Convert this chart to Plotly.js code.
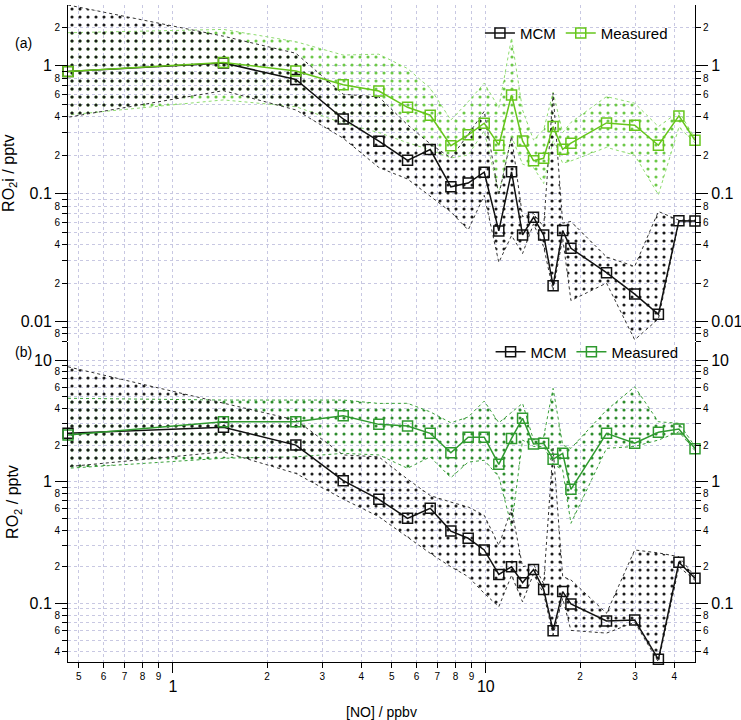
<!DOCTYPE html>
<html>
<head>
<meta charset="utf-8">
<script src="https://cdn.plot.ly/plotly-3.0.1.min.js"></script>
<style>html,body{margin:0;padding:0;background:#fff;}#chart{width:741px;height:720px;}</style>
</head>
<body>
<div id="chart"></div>
<script>
// ---------- data ----------
const noX = [0.462, 1.45, 2.47, 3.5, 4.55, 5.62, 6.64, 7.73, 8.78, 9.88, 11.0, 12.08, 13.1, 14.2, 15.3, 16.4, 17.6, 18.7, 24.3, 29.9, 35.6, 41.4, 46.6];

// panel (a): RO2i
const mcmA    = [0.90, 1.05, 0.78, 0.383, 0.257, 0.182, 0.221, 0.113, 0.121, 0.147, 0.0511, 0.148, 0.0476, 0.0654, 0.0474, 0.0191, 0.0514, 0.0374, 0.0241, 0.0164, 0.0114, 0.0615, 0.0612];
const mcmAHi  = [2.98, 1.7, 1.25, 0.598, 0.57, 0.345, 0.245, 0.19, 0.29, 0.44, 0.097, 0.28, 0.066, 0.07, 0.055, 0.61, 0.0588, 0.0606, 0.032, 0.027, 0.0725, 0.062, 0.062];
const mcmALo  = [0.395, 0.638, 0.451, 0.271, 0.16, 0.13, 0.095, 0.072, 0.052, 0.097, 0.029, 0.047, 0.034, 0.058, 0.0385, 0.0175, 0.045, 0.0146, 0.02, 0.0072, 0.0105, 0.06, 0.06];
const measA   = [0.90, 1.06, 0.91, 0.71, 0.634, 0.473, 0.41, 0.237, 0.288, 0.355, 0.239, 0.59, 0.258, 0.181, 0.189, 0.334, 0.222, 0.248, 0.357, 0.342, 0.239, 0.405, 0.261];
const measAHi = [1.81, 1.92, 1.54, 1.21, 1.23, 0.95, 0.666, 0.376, 0.523, 0.73, 0.47, 1.65, 0.45, 0.263, 0.315, 0.62, 0.3, 0.36, 0.573, 0.509, 0.334, 0.437, 0.271];
const measALo = [0.412, 0.54, 0.478, 0.355, 0.3, 0.25, 0.22, 0.19, 0.2, 0.31, 0.1, 0.28, 0.17, 0.16, 0.12, 0.26, 0.173, 0.18, 0.23, 0.2, 0.098, 0.33, 0.25];

// panel (b): RO2
const mcmB    = [2.5, 2.8, 2.0, 1.02, 0.717, 0.50, 0.605, 0.393, 0.343, 0.275, 0.173, 0.2, 0.148, 0.19, 0.13, 0.0597, 0.125, 0.099, 0.0717, 0.073, 0.0347, 0.218, 0.161];
const mcmBHi  = [8.8, 4.41, 3.21, 1.66, 1.6, 1.05, 0.77, 0.68, 0.62, 0.53, 0.3, 0.6, 0.2, 0.21, 0.145, 1.88, 0.166, 0.156, 0.083, 0.275, 0.26, 0.242, 0.166];
const mcmBLo  = [1.33, 1.76, 1.17, 0.72, 0.516, 0.353, 0.258, 0.2, 0.166, 0.121, 0.094, 0.17, 0.103, 0.175, 0.12, 0.055, 0.11, 0.06, 0.057, 0.07, 0.033, 0.2, 0.155];
const measB   = [2.42, 3.11, 3.11, 3.49, 2.96, 2.87, 2.5, 1.73, 2.32, 2.32, 1.39, 2.27, 3.32, 2.04, 2.07, 1.53, 1.71, 0.866, 2.5, 2.07, 2.55, 2.71, 1.87];
const measBHi = [4.85, 4.69, 4.69, 4.69, 4.4, 4.41, 3.75, 3.05, 3.4, 4.6, 3.05, 3.7, 4.41, 2.2, 2.34, 5.85, 2.0, 1.88, 3.88, 6.03, 3.11, 3.02, 1.95];
const measBLo = [1.29, 1.56, 1.6, 1.71, 1.66, 1.29, 1.6, 1.08, 1.45, 1.5, 1.1, 0.43, 2.2, 1.95, 1.95, 1.4, 1.25, 0.455, 1.88, 1.95, 2.2, 2.57, 1.8];

// ---------- tick labels ----------
const xTickVals  = [0.5,0.6,0.7,0.8,0.9,1,2,3,4,5,6,7,8,9,10,20,30,40];
const xTickText  = ['5','6','7','8','9','','2','3','4','5','6','7','8','9','','2','3','4'];
const xMajorVals = [1,10];
const xMajorText = ['1','10'];

const yATickVals  = [0.007,0.008,0.009,0.01,0.02,0.03,0.04,0.05,0.06,0.07,0.08,0.09,0.1,0.2,0.3,0.4,0.5,0.6,0.7,0.8,0.9,1,2];
const yATickText  = ['','8','','','2','','4','','6','','8','','','2','','4','','6','','8','','','2'];
const yAMajorVals = [0.01,0.1,1];
const yAMajorText = ['0.01','0.1','1'];

const yBTickVals  = [0.04,0.05,0.06,0.07,0.08,0.09,0.1,0.2,0.3,0.4,0.5,0.6,0.7,0.8,0.9,1,2,3,4,5,6,7,8,9,10];
const yBTickText  = ['4','','6','','8','','','2','','4','','6','','8','','','2','','4','','6','','8','',''];
const yBMajorVals = [0.1,1,10];
const yBMajorText = ['0.1','1','10'];

// ---------- styling ----------
const FONT = 'Liberation Sans, Arial, sans-serif';
const GRID = '#c8c8e2';
const BLACK = '#111111';
const GREEN_A = '#66c61c';
const GREEN_B = '#2f9a2f';
const xRange = [Math.log10(0.4619), Math.log10(46.6)];
const yARange = [-2.1547, 0.4742];
const yBRange = [-1.4815, 1.1479];

function band(lo, hi, xa, ya, col, dotCol) {
  return {
    x: noX.concat(noX.slice().reverse()),
    y: hi.concat(lo.slice().reverse()),
    xaxis: xa, yaxis: ya, type: 'scatter', mode: 'lines',
    fill: 'toself', fillcolor: 'rgba(0,0,0,0)',
    fillpattern: {shape: '.', fgcolor: dotCol, bgcolor: 'rgba(0,0,0,0)', size: 8, solidity: 0.12},
    line: {color: col, width: 1, dash: 'dot'},
    showlegend: false, hoverinfo: 'skip'
  };
}
function series(y, xa, ya, col, name, leg) {
  return {
    x: noX, y: y, xaxis: xa, yaxis: ya, type: 'scatter', mode: 'lines+markers',
    name: name, legend: leg, cliponaxis: false,
    line: {color: col, width: 1.5},
    marker: {symbol: 'square-open', size: 10, color: col, line: {width: 1.5, color: col}}
  };
}
function dummy(xa, ya) {
  return {x: [1], y: [1], xaxis: xa, yaxis: ya, type: 'scatter', mode: 'markers',
          opacity: 0, showlegend: false, hoverinfo: 'skip'};
}

const traces = [
  band(measALo, measAHi, 'x2', 'y2', '#8fdc70', '#6cc848'),
  band(mcmALo, mcmAHi, 'x2', 'y2', '#333333', '#1a1a1a'),
  series(mcmA, 'x2', 'y2', BLACK, 'MCM', 'legend'),
  series(measA, 'x2', 'y2', GREEN_A, 'Measured', 'legend'),
  band(measBLo, measBHi, 'x', 'y', '#3aa03a', '#2a8a2a'),
  band(mcmBLo, mcmBHi, 'x', 'y', '#333333', '#1a1a1a'),
  series(mcmB, 'x', 'y', BLACK, 'MCM', 'legend2'),
  series(measB, 'x', 'y', GREEN_B, 'Measured', 'legend2'),
  dummy('x3', 'y'), dummy('x2', 'y3'), dummy('x2', 'y4'), dummy('x2', 'y5'),
  dummy('x', 'y6'), dummy('x', 'y7'), dummy('x', 'y8')
];

const baseAx = {type: 'log', zeroline: false, tickmode: 'array', tickcolor: '#000', tickwidth: 1,
                showgrid: false, showline: false, fixedrange: true};
function ax(extra) { return Object.assign({}, baseAx, extra); }

const layout = {
  width: 741, height: 720,
  margin: {l: 68, r: 46, t: 5, b: 58},
  paper_bgcolor: '#fff', plot_bgcolor: '#fff',
  font: {family: FONT, color: '#000'},
  showlegend: true,
  xaxis: ax({range: xRange, domain: [0, 1], anchor: 'y', tickvals: xTickVals, ticktext: xTickText,
             ticks: 'outside', ticklen: 5, showline: true, linecolor: '#000', linewidth: 1,
             showgrid: true, gridcolor: GRID, griddash: 'dot', gridwidth: 1, tickfont: {size: 10}}),
  xaxis3: ax({range: xRange, overlaying: 'x', anchor: 'y', side: 'bottom', tickvals: xMajorVals, ticktext: xMajorText,
              ticks: 'outside', ticklen: 10, tickfont: {size: 16},
              title: {text: '[NO] / ppbv', font: {size: 14}, standoff: 12}}),
  xaxis2: ax({range: xRange, domain: [0, 1], anchor: 'y2', tickvals: xTickVals, showticklabels: false, ticks: '',
              showgrid: true, gridcolor: GRID, griddash: 'dot', gridwidth: 1}),
  yaxis2: ax({range: yARange, domain: [0.488, 1], anchor: 'x2', tickvals: yATickVals, ticktext: yATickText,
              ticks: 'outside', ticklen: 5, showline: true, linecolor: '#000', linewidth: 1,
              showgrid: true, gridcolor: GRID, griddash: 'dot', gridwidth: 1, tickfont: {size: 10}}),
  yaxis3: ax({range: yARange, overlaying: 'y2', anchor: 'x2', side: 'left', tickvals: yAMajorVals, ticktext: yAMajorText,
              ticks: 'outside', ticklen: 12, tickfont: {size: 16},
              title: {text: 'RO<sub>2</sub>i / pptv', font: {size: 16}, standoff: 6}}),
  yaxis4: ax({range: yARange, overlaying: 'y2', anchor: 'x2', side: 'right', tickvals: yATickVals, ticktext: yATickText,
              ticks: 'outside', ticklen: 5, showline: true, linecolor: '#000', linewidth: 1, tickfont: {size: 10}}),
  yaxis5: ax({range: yARange, overlaying: 'y2', anchor: 'x2', side: 'right', tickvals: yAMajorVals, ticktext: yAMajorText,
              ticks: 'outside', ticklen: 12, tickfont: {size: 16}}),
  yaxis: ax({range: yBRange, domain: [0, 0.487], anchor: 'x', tickvals: yBTickVals, ticktext: yBTickText,
             ticks: 'outside', ticklen: 5, showline: true, linecolor: '#000', linewidth: 1,
             showgrid: true, gridcolor: GRID, griddash: 'dot', gridwidth: 1, tickfont: {size: 10}}),
  yaxis6: ax({range: yBRange, overlaying: 'y', anchor: 'x', side: 'left', tickvals: yBMajorVals, ticktext: yBMajorText,
              ticks: 'outside', ticklen: 12, tickfont: {size: 16},
              title: {text: 'RO<sub>2</sub> / pptv', font: {size: 16}, standoff: 6}}),
  yaxis7: ax({range: yBRange, overlaying: 'y', anchor: 'x', side: 'right', tickvals: yBTickVals, ticktext: yBTickText,
              ticks: 'outside', ticklen: 5, showline: true, linecolor: '#000', linewidth: 1, tickfont: {size: 10}}),
  yaxis8: ax({range: yBRange, overlaying: 'y', anchor: 'x', side: 'right', tickvals: yBMajorVals, ticktext: yBMajorText,
              ticks: 'outside', ticklen: 12, tickfont: {size: 16}}),
  legend: {x: 0.657, y: 0.957, xanchor: 'left', yanchor: 'middle', orientation: 'h',
           bgcolor: 'rgba(0,0,0,0)', font: {size: 15}, itemwidth: 30, tracegroupgap: 0},
  legend2: {x: 0.674, y: 0.472, xanchor: 'left', yanchor: 'middle', orientation: 'h',
            bgcolor: 'rgba(0,0,0,0)', font: {size: 15}, itemwidth: 30, tracegroupgap: 0},
  annotations: [
    {text: '(a)', xref: 'paper', yref: 'paper', x: -0.087, y: 0.957, showarrow: false, font: {size: 14}},
    {text: '(b)', xref: 'paper', yref: 'paper', x: -0.087, y: 0.472, showarrow: false, font: {size: 14}}
  ]
};

Plotly.newPlot('chart', traces, layout, {displayModeBar: false, staticPlot: true});
</script>
</body>
</html>
